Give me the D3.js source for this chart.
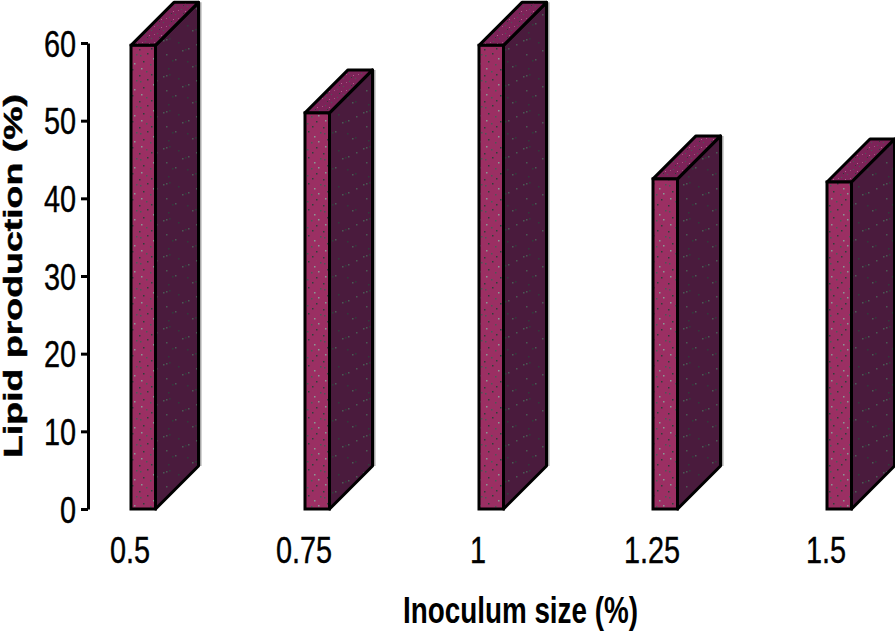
<!DOCTYPE html>
<html>
<head>
<meta charset="utf-8">
<script src="https://d3js.org/d3.v7.min.js"></script>
<style>
html, body { margin: 0; padding: 0; background: #fff; }
svg { display: block; }
text { font-family: "Liberation Sans", Arial, sans-serif; fill: #000; }
</style>
</head>
<body>
<svg id="chart" width="895" height="631"></svg>
<script>
const categories = ["0.5", "0.75", "1", "1.25", "1.5"];
const lipid = [59.7, 51, 59.7, 42.5, 42.1];
const yTicks = [0, 10, 20, 30, 40, 50, 60];

const svg = d3.select("#chart");
const barW = 24.5, depthX = 43, depthY = 43;

const x = d3.scalePoint().domain(categories).range([131, 827]);
const y = d3.scaleLinear().domain([0, 60]).range([509, 43]);

// speckled fills
const defs = svg.append("defs");
function speckle(id, base, dots, cellW, cellH, dotSize) {
  const p = defs.append("pattern").attr("id", id)
    .attr("patternUnits", "userSpaceOnUse")
    .attr("width", cellW).attr("height", cellH);
  p.append("rect").attr("width", cellW).attr("height", cellH).attr("fill", base);
  dots.forEach(d => {
    p.append("rect").attr("x", d[0]).attr("y", d[1]).attr("width", dotSize).attr("height", dotSize)
      .attr("fill", d[2]);
  });
}
const g1 = "#4a5a55", g2 = "#2f3f3a", g3 = "#8a9a94";
speckle("front", "#9b2f63", [[2,3,g1],[9,1,g2],[15,6,g3],[5,9,g2],[12,12,g1],[19,11,g3],[3,16,g3],[17,17,g2],[8,19,g1],[13,22,g2],[21,2,g1],[1,23,g2]], 23, 26, 1.5);
speckle("top", "#7c2358", [[1,1,g1],[5,3,"#b2608c"],[3,5,g2],[7,6,g1],[10,2,"#a5527f"]], 12, 8, 1);
speckle("side", "#4a1b3d", [[3,4,g1],[6,3,g1],[9,2,g2],[22,14,g1],[25,13,g2],[28,12,g1],[12,24,g2],[15,23,g1],[32,30,g1],[35,29,g2],[18,6,g2],[36,8,g1],[6,18,g1],[27,25,g2],[8,32,g2]], 40, 36, 1.5);

// bars
const bars = svg.append("g").selectAll("g").data(lipid).join("g");
const line = d3.line();

bars.append("path")
  .attr("fill", "none").attr("stroke", "#a8a8a8").attr("stroke-width", 2)
  .attr("d", (d, i) => {
    const r = x(categories[i]) + barW + depthX + 2;
    return line([[r, y(d) - depthY], [r, y(0) - depthY]]);
  });
bars.append("path")
  .attr("fill", "url(#side)").attr("stroke", "#000").attr("stroke-width", 3).attr("stroke-linejoin", "round")
  .attr("d", (d, i) => {
    const r = x(categories[i]) + barW;
    return line([[r, y(d)], [r + depthX, y(d) - depthY], [r + depthX, y(0) - depthY], [r, y(0)]]) + "Z";
  });
bars.append("path")
  .attr("fill", "url(#top)").attr("stroke", "#000").attr("stroke-width", 3).attr("stroke-linejoin", "round")
  .attr("d", (d, i) => {
    const l = x(categories[i]);
    return line([[l, y(d)], [l + depthX, y(d) - depthY], [l + barW + depthX, y(d) - depthY], [l + barW, y(d)]]) + "Z";
  });
bars.append("rect")
  .attr("x", (d, i) => x(categories[i]))
  .attr("y", d => y(d))
  .attr("width", barW)
  .attr("height", d => y(0) - y(d))
  .attr("fill", "url(#front)").attr("stroke", "#000").attr("stroke-width", 3);

// y axis
const yAxis = svg.append("g").attr("transform", "translate(88,0)")
  .call(d3.axisLeft(y).tickValues(yTicks).tickSize(7).tickSizeOuter(0).tickPadding(0));
yAxis.select(".domain").attr("stroke", "#000").attr("stroke-width", 3);
yAxis.selectAll(".tick line").attr("stroke", "#000").attr("stroke-width", 3);
yAxis.selectAll(".tick text")
  .attr("x", null).attr("dy", null).attr("text-anchor", "end")
  .attr("font-size", 37)
  .attr("stroke", "#000").attr("stroke-width", 0.4)
  .attr("transform", "translate(-12,13) scale(0.78,1)");

// x labels
svg.append("g").selectAll("text").data(categories).join("text")
  .attr("text-anchor", "middle")
  .attr("font-size", 37)
  .attr("stroke", "#000").attr("stroke-width", 0.4)
  .attr("transform", d => "translate(" + (x(d) - 1) + ",563) scale(0.78,1)")
  .text(d => d);

// axis titles
svg.append("text")
  .attr("text-anchor", "middle")
  .attr("font-weight", "bold")
  .attr("font-size", 26)
  .attr("stroke", "#000").attr("stroke-width", 0.5)
  .attr("transform", "translate(22,276) rotate(-90) scale(1.44,1)")
  .text("Lipid production (%)");
svg.append("text")
  .attr("text-anchor", "middle")
  .attr("font-weight", "bold")
  .attr("font-size", 36)
  .attr("transform", "translate(520.5,623) scale(0.773,1)")
  .text("Inoculum size (%)");
</script>
</body>
</html>
